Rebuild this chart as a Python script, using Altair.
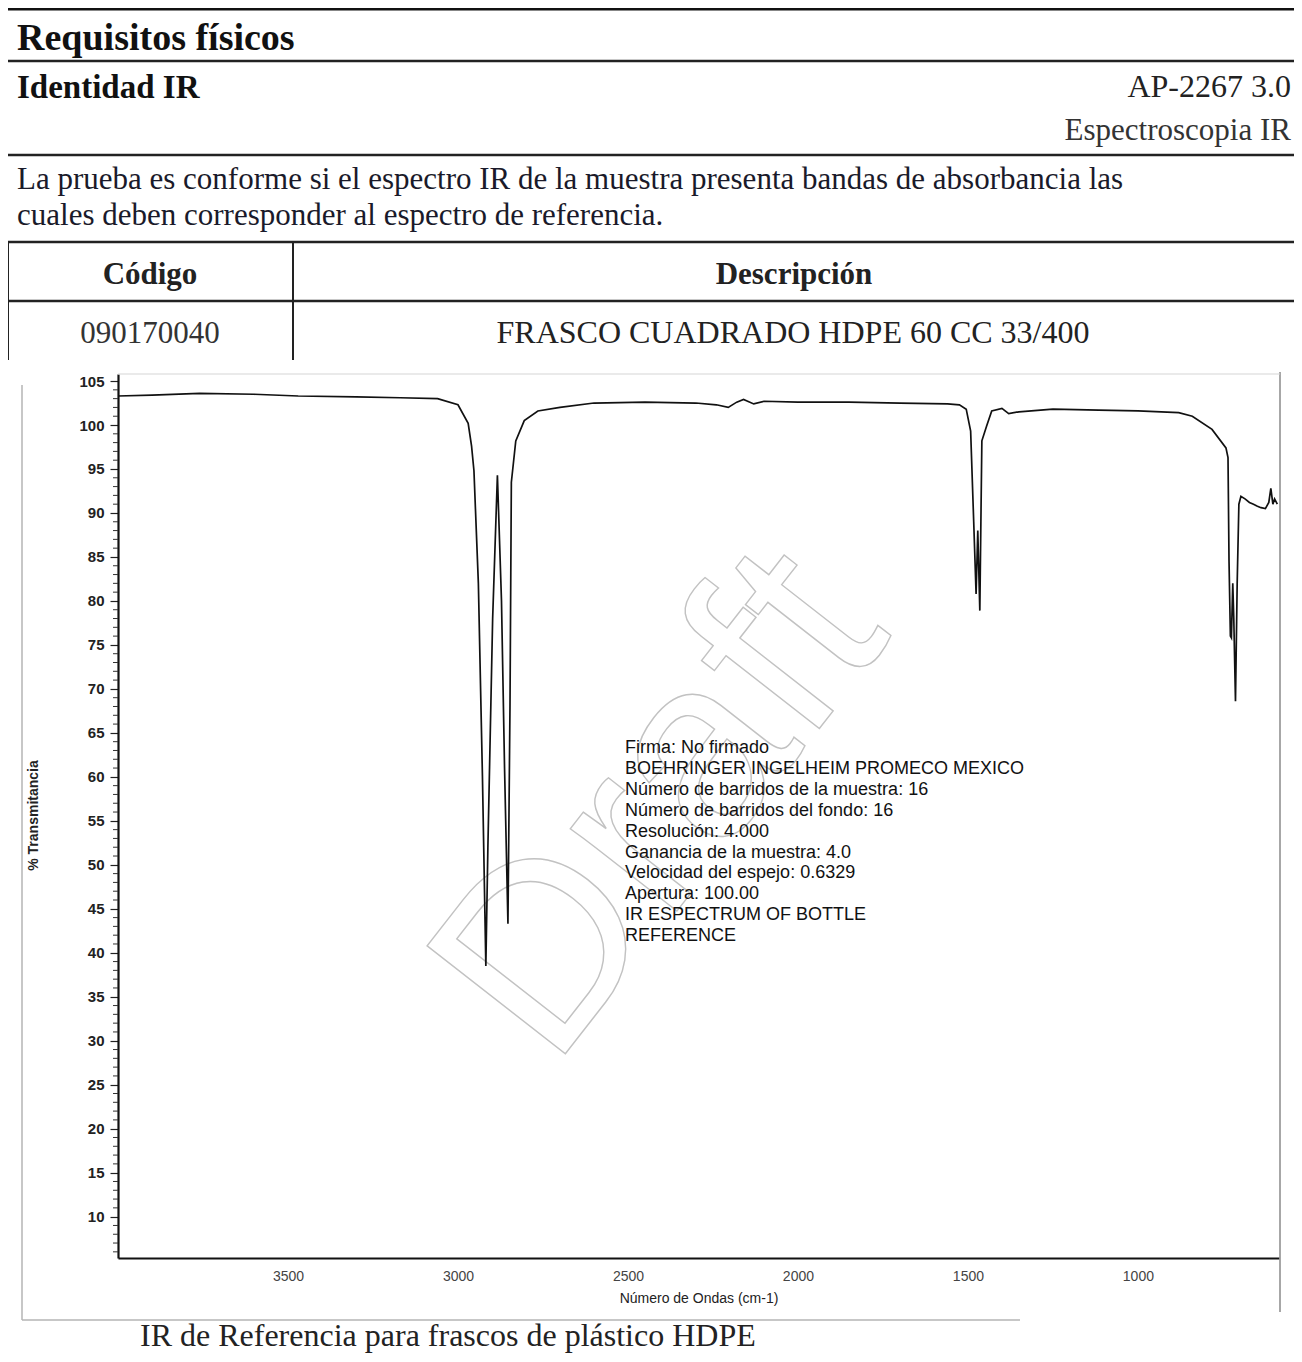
import altair as alt
import pandas as pd

# ---------------- data ----------------
wavenumber = [4000, 3900, 3760, 3600, 3470, 3300, 3170, 3060, 3000, 2970, 2960, 2953,
              2940, 2928, 2918, 2912, 2898, 2884, 2872, 2863, 2853, 2847, 2843, 2830,
              2805, 2765, 2700, 2600, 2450, 2300, 2240, 2205, 2180, 2160, 2130, 2100,
              2000, 1850, 1700, 1560, 1525, 1505, 1492, 1483, 1476, 1471, 1465, 1459,
              1445, 1430, 1400, 1380, 1350, 1250, 1115, 1000, 880, 840, 782, 741,
              735, 732, 728, 725, 721, 718, 713, 708, 703, 697, 685, 672, 660, 650,
              638, 625, 615, 609, 603, 598, 590]
transmittance = [103.3, 103.4, 103.6, 103.5, 103.3, 103.2, 103.1, 103.0, 102.3, 100.2, 97.6, 94.8,
                 82.0, 60.0, 38.5, 52.0, 78.0, 94.3, 80.0, 61.0, 43.3, 68.0, 93.5, 98.2,
                 100.5, 101.6, 102.0, 102.5, 102.6, 102.5, 102.3, 102.0, 102.6, 102.9, 102.4, 102.7,
                 102.6, 102.6, 102.5, 102.4, 102.3, 101.8, 99.3, 89.0, 80.8, 88.0, 78.9, 98.2,
                 99.9, 101.6, 101.9, 101.3, 101.5, 101.8, 101.7, 101.6, 101.4, 101.0, 99.5, 97.4,
                 96.3, 84.5, 76.0, 75.8, 82.0, 78.0, 68.6, 82.0, 91.0, 91.9, 91.6, 91.2, 91.0, 90.8,
                 90.6, 90.5, 91.2, 92.8, 91.0, 91.6, 91.0]

y_tick_values = list(range(10, 106, 5))
y_minor_values = [v for v in range(6, 106) if v % 5]
x_tick_values = [3500, 3000, 2500, 2000, 1500, 1000]

title_text = "Requisitos físicos"
section_text = "Identidad IR"
code_text = "AP-2267 3.0"
method_text = "Espectroscopia IR"
para_lines = ["La prueba es conforme si el espectro IR de la muestra presenta bandas de absorbancia las",
              "cuales deben corresponder al espectro de referencia."]
col_headers = ["Código", "Descripción"]
row_values = ["090170040", "FRASCO CUADRADO HDPE 60 CC 33/400"]
caption_text = "IR de Referencia para frascos de plástico HDPE"
annotation_lines = ["Firma: No firmado",
                    "BOEHRINGER INGELHEIM PROMECO MEXICO",
                    "Número de barridos de la muestra:  16",
                    "Número de barridos del fondo:  16",
                    "Resolución:  4.000",
                    "Ganancia de la muestra:  4.0",
                    "Velocidad del espejo:  0.6329",
                    "Apertura:  100.00",
                    "IR ESPECTRUM OF BOTTLE",
                    "REFERENCE"]

# ---------------- layout ----------------
OX, OY = 118, 374          # page position of plot origin
W, H = 1161, 884


def lx(X):
    return X - OX


def ly(Y):
    return Y - OY


SERIF = "Liberation Serif"
SANS = "Liberation Sans"

df = pd.DataFrame({"wn": wavenumber, "T": transmittance})
minor_df = pd.DataFrame({"T": y_minor_values})
dummy = pd.DataFrame({"k": [0]})

x_enc = alt.X("wn:Q",
              scale=alt.Scale(domain=[4000, 585], nice=False, zero=False),
              axis=alt.Axis(values=x_tick_values, format="d", title="Número de Ondas (cm-1)",
                            ticks=False, tickSize=0, grid=False,
                            domainColor="#111", domainWidth=2.2,
                            labelFont=SANS, labelFontSize=14, labelColor="#444",
                            labelPadding=11,
                            titleFont=SANS, titleFontSize=14, titleFontWeight="normal",
                            titleColor="#222", titlePadding=8))
y_axis = alt.Axis(values=y_tick_values, format="d", title="% Transmitancia", grid=False,
                  tickSize=8, tickColor="#222", tickWidth=1.2,
                  domainColor="#111", domainWidth=2.2,
                  labelFont=SANS, labelFontSize=15, labelFontWeight="bold", labelColor="#222",
                  labelPadding=6,
                  titleFont=SANS, titleFontSize=14, titleFontWeight="bold", titleColor="#222",
                  titleAngle=270, titleAlign="center", titleBaseline="middle",
                  titleX=lx(33), titleY=ly(815))
y_scale = alt.Scale(domain=[5.3, 105.8], nice=False, zero=False)

layers = []

# watermark
layers.append(alt.Chart(dummy).mark_text(
    text="Draft", font=SANS, fontSize=255, angle=308, align="center", baseline="middle",
    fill="transparent", stroke="#c2c2c2", strokeWidth=1.4
).encode(x=alt.value(lx(662)), y=alt.value(ly(805))))

# spectrum
layers.append(alt.Chart(df).mark_line(color="#111", strokeWidth=1.7, interpolate="linear").encode(
    x=x_enc, y=alt.Y("T:Q", scale=y_scale, axis=y_axis), order=alt.Order("wn:Q", sort="descending")))

# minor ticks on the y axis
layers.append(alt.Chart(minor_df).mark_rule(color="#333", strokeWidth=1).encode(
    y=alt.Y("T:Q", scale=y_scale, axis=y_axis), x=alt.value(-5), x2=alt.value(0)))

# rules (table and frame)
rules = [
    (6, 9, 1300, 9, "#111", 3),
    (6, 61, 1300, 61, "#222", 2.5),
    (6, 155, 1300, 155, "#222", 2.5),
    (8, 242, 1300, 242, "#222", 2.5),
    (8, 301, 1300, 301, "#222", 2.5),
    (8, 242, 8, 360, "#222", 2),
    (293, 242, 293, 360, "#222", 2),
    (1298, 9, 1298, 360, "#222", 2),
    (1298, 360, 1298, 820, "#555", 1.5),
    (22, 385, 22, 1320, "#b5b5b5", 1.5),
    (22, 1320, 1020, 1320, "#b5b5b5", 1.5),
    (1280, 372, 1280, 1312, "#8a8a8a", 1.5),
    (118, 374, 1280, 374, "#d5d5d5", 1),
]
for x1, y1, x2, y2, c, w in rules:
    layers.append(alt.Chart(dummy).mark_rule(color=c, strokeWidth=w).encode(
        x=alt.value(lx(x1)), x2=alt.value(lx(x2)), y=alt.value(ly(y1)), y2=alt.value(ly(y2))))

# header and caption texts
texts = [
    (title_text, 17, 50, "left", 38, "bold", "#111"),
    (section_text, 17, 98, "left", 33, "bold", "#111"),
    (code_text, 1291, 97, "right", 32, "normal", "#222"),
    (method_text, 1291, 140, "right", 31, "normal", "#333"),
    (para_lines[0], 17, 189, "left", 31, "normal", "#1a1a2a"),
    (para_lines[1], 17, 225, "left", 31, "normal", "#1a1a2a"),
    (col_headers[0], 150, 284, "center", 31, "bold", "#222"),
    (col_headers[1], 794, 284, "center", 31, "bold", "#222"),
    (row_values[0], 150, 343, "center", 31, "normal", "#333"),
    (row_values[1], 793, 343, "center", 32, "normal", "#222"),
    (caption_text, 140, 1346, "left", 32, "normal", "#222"),
]
for t, X, Y, al, fs, fw, c in texts:
    layers.append(alt.Chart(dummy).mark_text(
        text=t, font=SERIF, fontSize=fs, fontWeight=fw, align=al, baseline="alphabetic", color=c
    ).encode(x=alt.value(lx(X)), y=alt.value(ly(Y))))

# annotation block
layers.append(alt.Chart(dummy).mark_text(
    text=annotation_lines, font=SANS, fontSize=18, lineHeight=20.9, align="left",
    baseline="alphabetic", color="#111"
).encode(x=alt.value(lx(625)), y=alt.value(ly(753))))

chart = alt.layer(*layers).properties(
    width=W, height=H,
    autosize=alt.AutoSizeParams(type="none"),
    padding={"left": OX - 8, "top": OY - 8, "right": 1286 - (OX - 8) - W, "bottom": 100},
    background="white",
).configure_view(strokeWidth=0)

chart.save("out.html", embed_options={"renderer": "svg", "actions": False})
